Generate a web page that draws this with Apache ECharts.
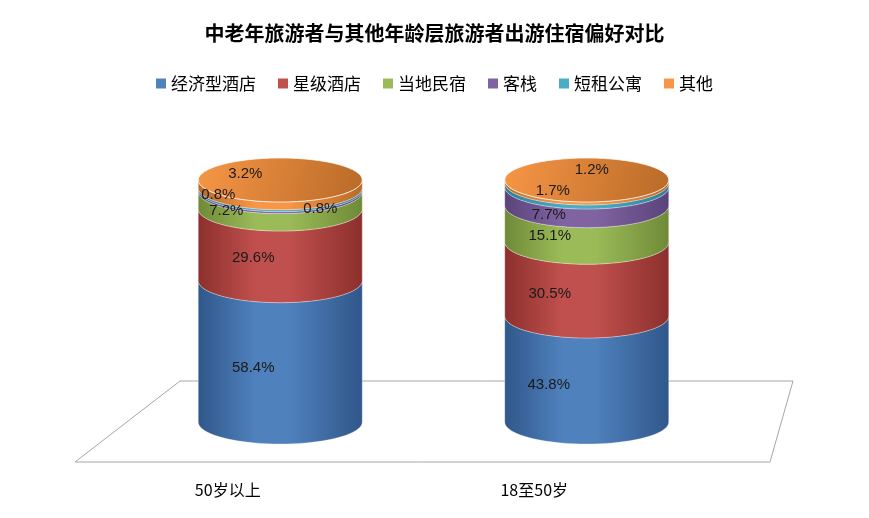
<!DOCTYPE html>
<html><head><meta charset="utf-8">
<script src="https://cdn.jsdelivr.net/npm/echarts@6/dist/echarts.min.js"></script>
<style>html,body{margin:0;padding:0;background:#fff}#demo{width:869px;height:518px}</style>
</head><body><div id="demo"></div>
<script>
var categories = ['50岁以上', '18至50岁'];
var seriesNames = ['经济型酒店', '星级酒店', '当地民宿', '客栈', '短租公寓', '其他'];
var values = [
    [58.4, 43.8],
    [29.6, 30.5],
    [7.2, 15.1],
    [0.8, 7.7],
    [0.8, 1.7],
    [3.2, 1.2]
];
var colors = ['#4F81BD', '#C0504D', '#9BBB59', '#8064A2', '#4BACC6', '#F79646'];
var darks = ['#30578a', '#8c302d', '#6f8a37', '#5a437a', '#2f7e95', '#b86a28'];
// 标签偏移 [dx, dy]
var labelOffsets = [
    [[-27, 17], [-38, 16]],
    [[-27, 13], [-37, 15]],
    [[-54, 11], [-37, 12]],
    [[40, 18], [-38, 19]],
    [[-62, 6], [-34, 6]],
    [[-35, -10], [5, -12]]
];

var myChart = echarts.init(document.getElementById('demo'));
var RX = 82, RY = 22;

function arcPts(cx, cy, from, to) {
    var pts = [];
    for (var i = 0; i <= 40; i++) {
        var a = from + (to - from) * i / 40;
        pts.push([cx + RX * Math.cos(a), cy + RY * Math.sin(a)]);
    }
    return pts;
}

var series = [];
var labelData = [];
var base = [0, 0];
seriesNames.forEach(function (name, s) {
    var data = [];
    for (var c = 0; c < categories.length; c++) {
        data.push([c, base[c], base[c] + values[s][c], values[s][c]]);
        labelData.push([c, base[c], base[c] + values[s][c], values[s][c], s]);
        base[c] += values[s][c];
    }
    var isTop = s === seriesNames.length - 1;
    series.push({
        name: name,
        type: 'custom',
        z: 2 + s,
        data: data,
        renderItem: function (params, api) {
            var c = api.value(0);
            var p0 = api.coord([c, api.value(1)]);
            var p1 = api.coord([c, api.value(2)]);
            var cx = p0[0];
            var poly = arcPts(cx, p0[1], 0, Math.PI).concat(arcPts(cx, p1[1], Math.PI, 0));
            var grad = new echarts.graphic.LinearGradient(0, 0, 1, 0, [
                {offset: 0, color: darks[s]},
                {offset: 0.35, color: colors[s]},
                {offset: 0.55, color: colors[s]},
                {offset: 1, color: darks[s]}
            ]);
            var children = [{
                type: 'polygon',
                shape: {points: poly},
                style: {fill: grad, stroke: 'rgba(255,255,255,0.6)', lineWidth: 0.5}
            }];
            if (isTop) {
                children.push({
                    type: 'ellipse',
                    shape: {cx: cx, cy: p1[1], rx: RX, ry: RY},
                    style: {fill: new echarts.graphic.LinearGradient(0, 0, 1, 1, [
                        {offset: 0, color: colors[s]}, {offset: 1, color: darks[s]}
                    ]), stroke: 'rgba(255,255,255,0.7)', lineWidth: 1}
                });
            }
            return {type: 'group', children: children};
        }
    });
});

// 数值标签放在最上层
series.push({
    type: 'custom',
    z: 20,
    silent: true,
    data: labelData,
    renderItem: function (params, api) {
        var c = api.value(0), s = api.value(4);
        var p0 = api.coord([c, api.value(1)]);
        var p1 = api.coord([c, api.value(2)]);
        var off = labelOffsets[s][c];
        return {
            type: 'text',
            style: {
                text: api.value(3).toFixed(1) + '%',
                x: p0[0] + off[0], y: (p0[1] + p1[1]) / 2 + off[1],
                align: 'center', verticalAlign: 'middle',
                font: '15px "Liberation Sans", sans-serif', fill: '#1a1a1a'
            }
        };
    }
});

option = {
    color: colors,
    title: {
        text: '中老年旅游者与其他年龄层旅游者出游住宿偏好对比',
        left: 'center', top: 18,
        textStyle: {fontFamily: 'Noto Sans CJK SC', fontSize: 20, fontWeight: 'bold', color: '#000'}
    },
    legend: {
        data: seriesNames, top: 70, left: 'center',
        itemWidth: 10, itemHeight: 10, itemGap: 22, icon: 'rect',
        textStyle: {fontFamily: 'Noto Sans CJK SC', fontSize: 17, color: '#000'}
    },
    grid: {left: 127, right: 129, top: 180, bottom: 96},
    xAxis: {
        type: 'category', data: categories,
        axisLine: {show: false}, axisTick: {show: false},
        axisLabel: {margin: 60, padding: [0, 105, 0, 0], fontSize: 16, color: '#000', fontFamily: 'Noto Sans CJK SC'}
    },
    yAxis: {type: 'value', min: 0, max: 100, show: false},
    graphic: [{
        type: 'polygon', z: 0,
        shape: {points: [[75, 462], [180, 381], [793, 381], [770, 462]]},
        style: {fill: '#fff', stroke: '#a6a6a6', lineWidth: 1}
    }],
    series: series
};
myChart.setOption(option);
</script>
</body></html>
